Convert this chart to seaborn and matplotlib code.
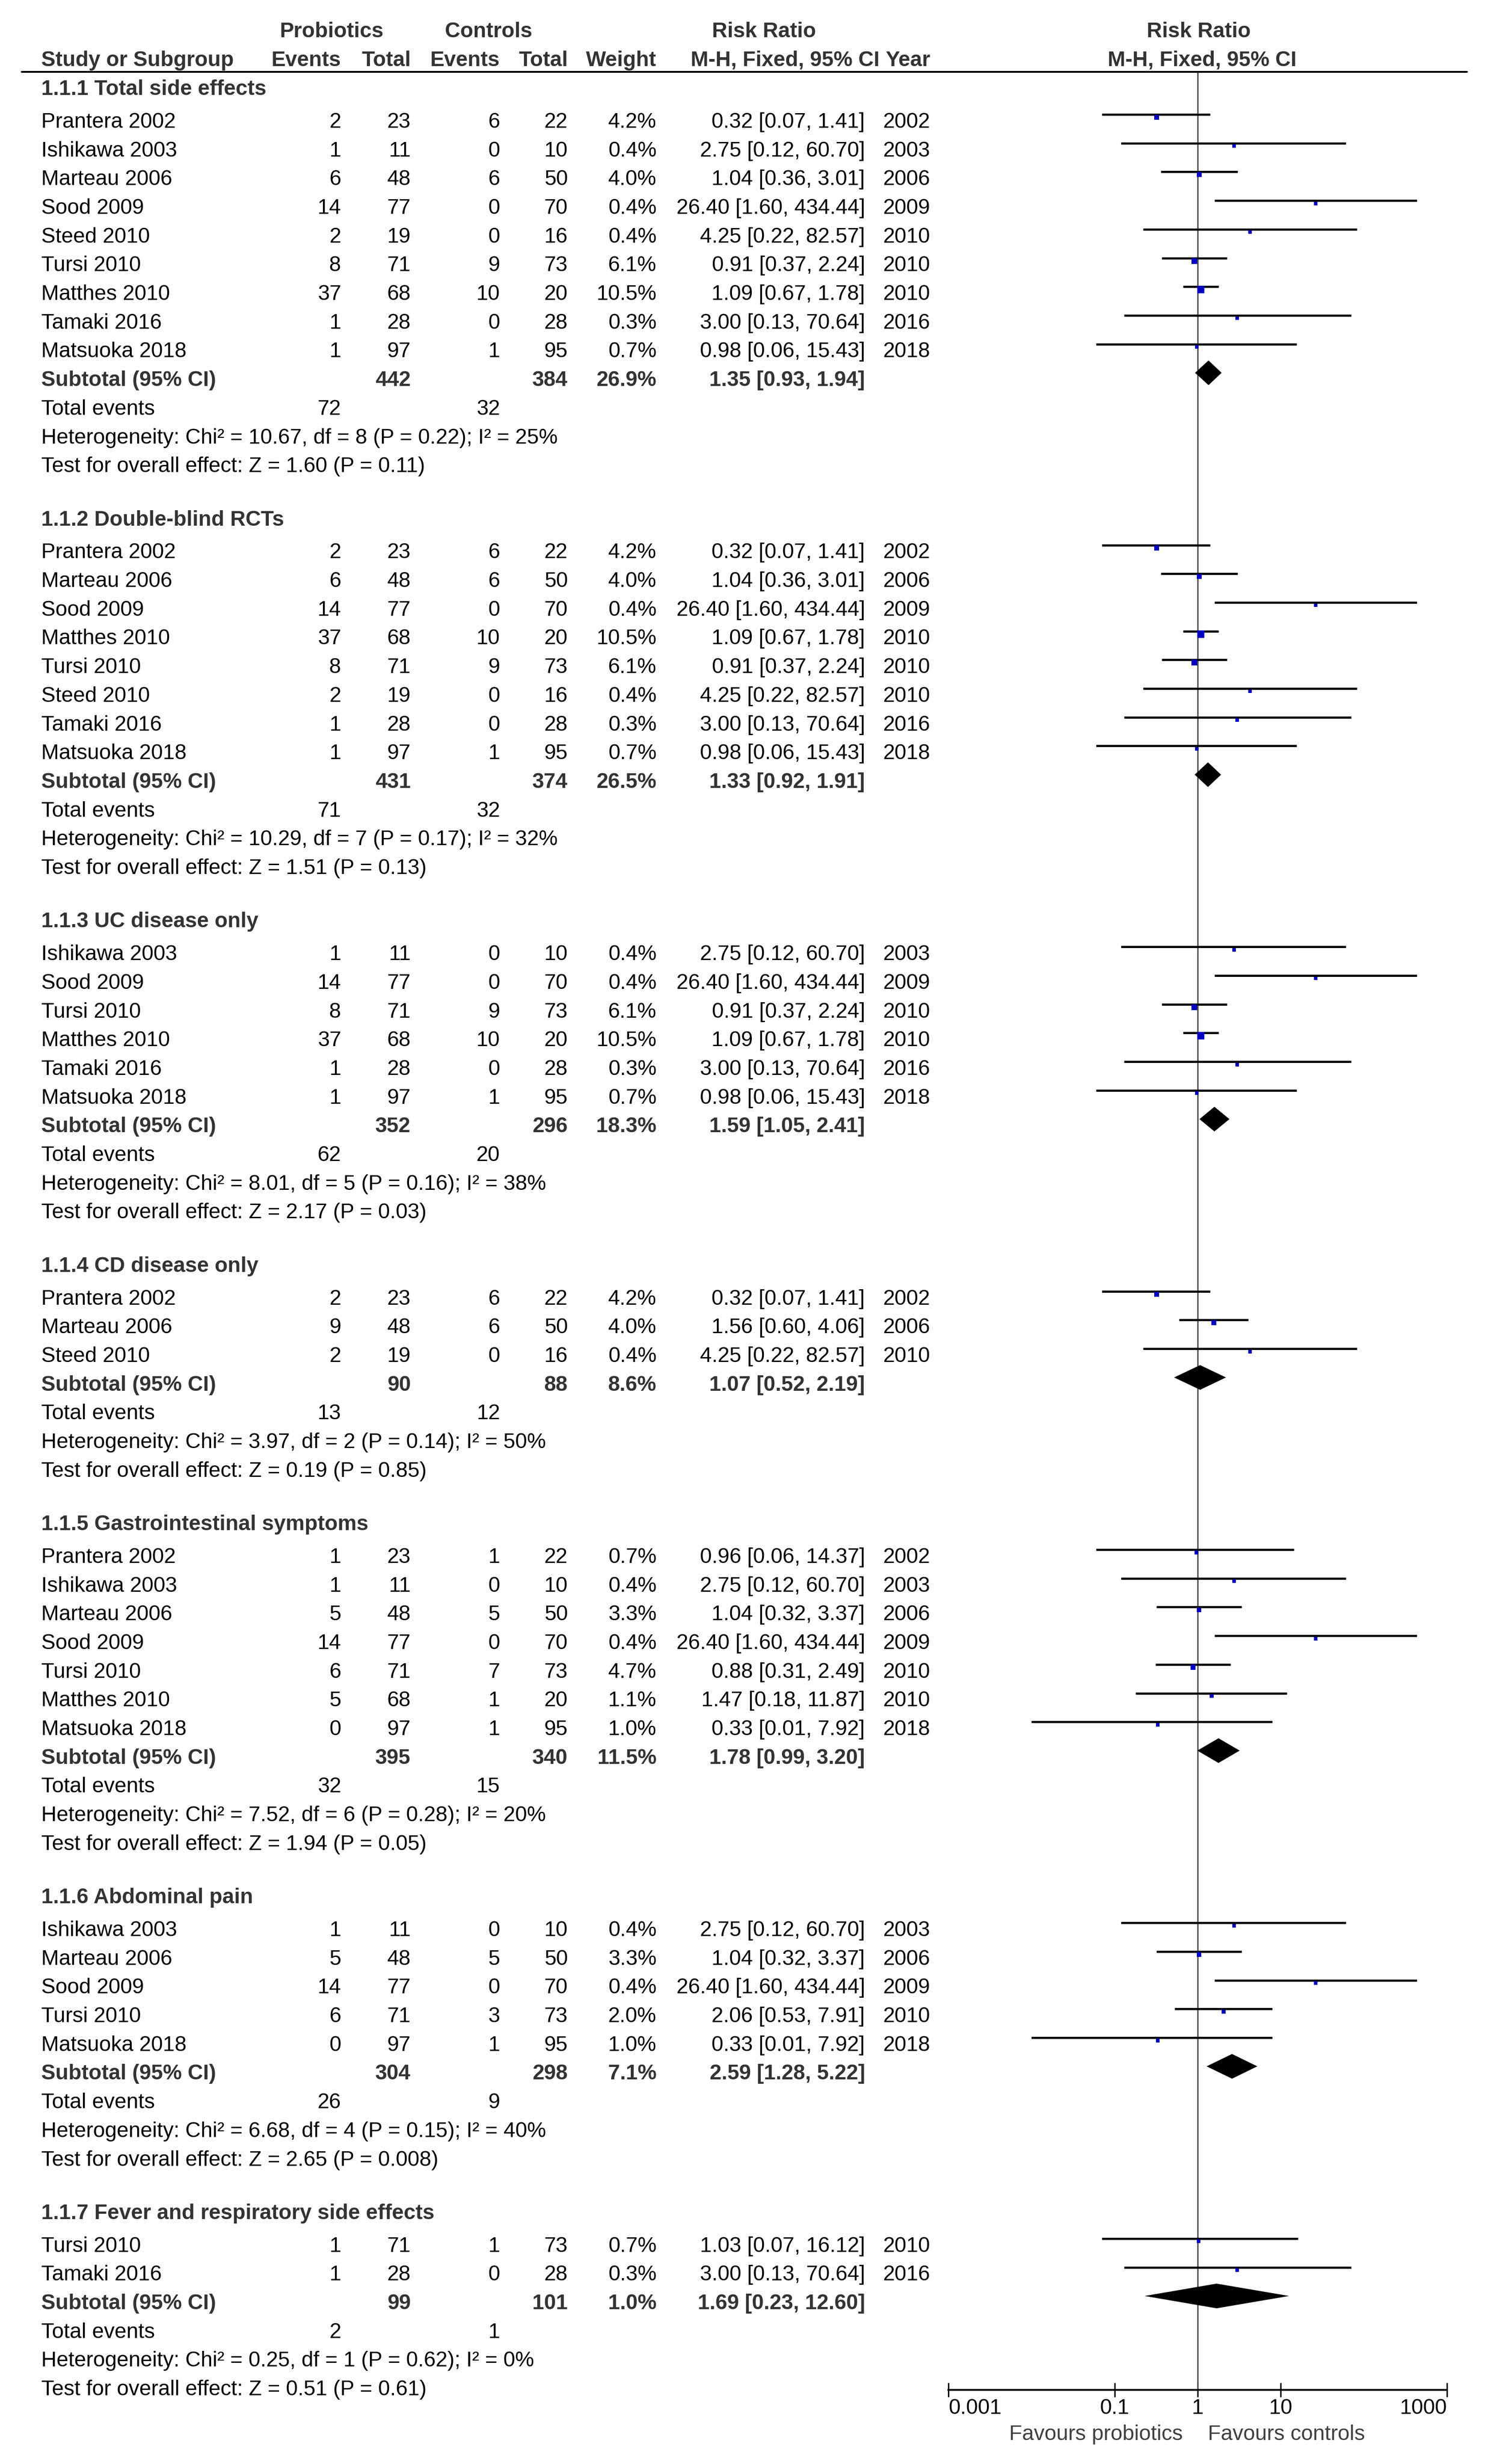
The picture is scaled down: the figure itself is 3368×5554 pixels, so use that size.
import matplotlib
matplotlib.use('Agg')
import matplotlib.pyplot as plt
import matplotlib.transforms as mtransforms
from matplotlib.lines import Line2D
import numpy as np
import pandas as pd
import seaborn as sns

# Subgroups
groups = ['1.1.1 Total side effects', '1.1.2 Double-blind RCTs', '1.1.3 UC disease only',
          '1.1.4 CD disease only', '1.1.5 Gastrointestinal symptoms', '1.1.6 Abdominal pain',
          '1.1.7 Fever and respiratory side effects']

# Study rows (in order of appearance)
study_group = [0, 0, 0, 0, 0, 0, 0, 0, 0,
               1, 1, 1, 1, 1, 1, 1, 1,
               2, 2, 2, 2, 2, 2,
               3, 3, 3,
               4, 4, 4, 4, 4, 4, 4,
               5, 5, 5, 5, 5,
               6, 6]
study = ['Prantera 2002', 'Ishikawa 2003', 'Marteau 2006', 'Sood 2009', 'Steed 2010', 'Tursi 2010',
         'Matthes 2010', 'Tamaki 2016', 'Matsuoka 2018',
         'Prantera 2002', 'Marteau 2006', 'Sood 2009', 'Matthes 2010', 'Tursi 2010', 'Steed 2010',
         'Tamaki 2016', 'Matsuoka 2018',
         'Ishikawa 2003', 'Sood 2009', 'Tursi 2010', 'Matthes 2010', 'Tamaki 2016', 'Matsuoka 2018',
         'Prantera 2002', 'Marteau 2006', 'Steed 2010',
         'Prantera 2002', 'Ishikawa 2003', 'Marteau 2006', 'Sood 2009', 'Tursi 2010', 'Matthes 2010',
         'Matsuoka 2018',
         'Ishikawa 2003', 'Marteau 2006', 'Sood 2009', 'Tursi 2010', 'Matsuoka 2018',
         'Tursi 2010', 'Tamaki 2016']
p_events = [2, 1, 6, 14, 2, 8, 37, 1, 1,
            2, 6, 14, 37, 8, 2, 1, 1,
            1, 14, 8, 37, 1, 1,
            2, 9, 2,
            1, 1, 5, 14, 6, 5, 0,
            1, 5, 14, 6, 0,
            1, 1]
p_total = [23, 11, 48, 77, 19, 71, 68, 28, 97,
           23, 48, 77, 68, 71, 19, 28, 97,
           11, 77, 71, 68, 28, 97,
           23, 48, 19,
           23, 11, 48, 77, 71, 68, 97,
           11, 48, 77, 71, 97,
           71, 28]
c_events = [6, 0, 6, 0, 0, 9, 10, 0, 1,
            6, 6, 0, 10, 9, 0, 0, 1,
            0, 0, 9, 10, 0, 1,
            6, 6, 0,
            1, 0, 5, 0, 7, 1, 1,
            0, 5, 0, 3, 1,
            1, 0]
c_total = [22, 10, 50, 70, 16, 73, 20, 28, 95,
           22, 50, 70, 20, 73, 16, 28, 95,
           10, 70, 73, 20, 28, 95,
           22, 50, 16,
           22, 10, 50, 70, 73, 20, 95,
           10, 50, 70, 73, 95,
           73, 28]
weight = [4.2, 0.4, 4.0, 0.4, 0.4, 6.1, 10.5, 0.3, 0.7,
          4.2, 4.0, 0.4, 10.5, 6.1, 0.4, 0.3, 0.7,
          0.4, 0.4, 6.1, 10.5, 0.3, 0.7,
          4.2, 4.0, 0.4,
          0.7, 0.4, 3.3, 0.4, 4.7, 1.1, 1.0,
          0.4, 3.3, 0.4, 2.0, 1.0,
          0.7, 0.3]
rr = [0.32, 2.75, 1.04, 26.40, 4.25, 0.91, 1.09, 3.00, 0.98,
      0.32, 1.04, 26.40, 1.09, 0.91, 4.25, 3.00, 0.98,
      2.75, 26.40, 0.91, 1.09, 3.00, 0.98,
      0.32, 1.56, 4.25,
      0.96, 2.75, 1.04, 26.40, 0.88, 1.47, 0.33,
      2.75, 1.04, 26.40, 2.06, 0.33,
      1.03, 3.00]
rr_lo = [0.07, 0.12, 0.36, 1.60, 0.22, 0.37, 0.67, 0.13, 0.06,
         0.07, 0.36, 1.60, 0.67, 0.37, 0.22, 0.13, 0.06,
         0.12, 1.60, 0.37, 0.67, 0.13, 0.06,
         0.07, 0.60, 0.22,
         0.06, 0.12, 0.32, 1.60, 0.31, 0.18, 0.01,
         0.12, 0.32, 1.60, 0.53, 0.01,
         0.07, 0.13]
rr_hi = [1.41, 60.70, 3.01, 434.44, 82.57, 2.24, 1.78, 70.64, 15.43,
         1.41, 3.01, 434.44, 1.78, 2.24, 82.57, 70.64, 15.43,
         60.70, 434.44, 2.24, 1.78, 70.64, 15.43,
         1.41, 4.06, 82.57,
         14.37, 60.70, 3.37, 434.44, 2.49, 11.87, 7.92,
         60.70, 3.37, 434.44, 7.91, 7.92,
         16.12, 70.64]
year = [2002, 2003, 2006, 2009, 2010, 2010, 2010, 2016, 2018,
        2002, 2006, 2009, 2010, 2010, 2010, 2016, 2018,
        2003, 2009, 2010, 2010, 2016, 2018,
        2002, 2006, 2010,
        2002, 2003, 2006, 2009, 2010, 2010, 2018,
        2003, 2006, 2009, 2010, 2018,
        2010, 2016]

# Subtotals per subgroup
sub_p_total = [442, 431, 352, 90, 395, 304, 99]
sub_c_total = [384, 374, 296, 88, 340, 298, 101]
sub_weight = [26.9, 26.5, 18.3, 8.6, 11.5, 7.1, 1.0]
sub_rr = [1.35, 1.33, 1.59, 1.07, 1.78, 2.59, 1.69]
sub_lo = [0.93, 0.92, 1.05, 0.52, 0.99, 1.28, 0.23]
sub_hi = [1.94, 1.91, 2.41, 2.19, 3.20, 5.22, 12.60]
tot_p_events = [72, 71, 62, 13, 32, 26, 2]
tot_c_events = [32, 32, 20, 12, 15, 9, 1]
het_chi2 = ['10.67', '10.29', '8.01', '3.97', '7.52', '6.68', '0.25']
het_df = [8, 7, 5, 2, 6, 4, 1]
het_p = ['0.22', '0.17', '0.16', '0.14', '0.28', '0.15', '0.62']
het_i2 = [25, 32, 38, 50, 20, 40, 0]
z_val = ['1.60', '1.51', '2.17', '0.19', '1.94', '2.65', '0.51']
z_p = ['0.11', '0.13', '0.03', '0.85', '0.05', '0.008', '0.61']

xticks = [0.001, 0.1, 1, 10, 1000]
xtick_labels = ['0.001', '0.1', '1', '10', '1000']

sns.set_style('white')
plt.rcParams['font.family'] = ['Liberation Sans', 'DejaVu Sans']

W, H = 3368, 5554
FS = 34.5
ROW0, ROWH = 206.3, 64.7
AX_L, AX_R, AX_T, AX_B = 2138, 3262, 162, 5387
BASE = 0.26       # baseline offset of text, rows
MARK = -0.2       # marks sit a bit above text centre
HEAD = '#333333'

fig = plt.figure(figsize=(W / 100, H / 100), dpi=100)
fig.patch.set_facecolor('white')
ax = fig.add_axes([AX_L / W, 1 - AX_B / H, (AX_R - AX_L) / W, (AX_B - AX_T) / H])
ax.set_xscale('log')
ax.set_xlim(0.001, 1000)
ax.set_ylim((AX_B - ROW0) / ROWH, (AX_T - ROW0) / ROWH)

tr = mtransforms.blended_transform_factory(fig.transFigure, ax.transData)


def put(x, k, s, ha='left', bold=False, color='black'):
    ax.text(x / W, k + BASE, s, transform=tr, ha=ha, va='baseline', fontsize=FS,
            fontweight='bold' if bold else 'normal', color=color, clip_on=False)


# column headers
k1, k2 = (67 - ROW0) / ROWH, (132 - ROW0) / ROWH
put(748, k1, 'Probiotics', 'center', True, HEAD)
put(1101, k1, 'Controls', 'center', True, HEAD)
put(1722, k1, 'Risk Ratio', 'center', True, HEAD)
put(2702, k1, 'Risk Ratio', 'center', True, HEAD)
put(93, k2, 'Study or Subgroup', 'left', True, HEAD)
put(769, k2, 'Events', 'right', True, HEAD)
put(926, k2, 'Total', 'right', True, HEAD)
put(1127, k2, 'Events', 'right', True, HEAD)
put(1280, k2, 'Total', 'right', True, HEAD)
put(1480, k2, 'Weight', 'right', True, HEAD)
put(1983, k2, 'M-H, Fixed, 95% CI', 'right', True, HEAD)
put(2097, k2, 'Year', 'right', True, HEAD)
put(2710, k2, 'M-H, Fixed, 95% CI', 'center', True, HEAD)
fig.add_artist(Line2D([49 / W, 3307 / W], [1 - 162 / H, 1 - 162 / H], color='black', lw=3))

# table rows
study_k, sub_k = [], []
k = 0
for g, title in enumerate(groups):
    put(93, k - 0.14, title, bold=True, color=HEAD)
    k += 1
    for i in [j for j, gg in enumerate(study_group) if gg == g]:
        put(93, k, study[i])
        put(769, k, str(p_events[i]), 'right')
        put(926, k, str(p_total[i]), 'right')
        put(1127, k, str(c_events[i]), 'right')
        put(1280, k, str(c_total[i]), 'right')
        put(1480, k, f'{weight[i]:.1f}%', 'right')
        put(1950, k, f'{rr[i]:.2f} [{rr_lo[i]:.2f}, {rr_hi[i]:.2f}]', 'right')
        put(2097, k, str(year[i]), 'right')
        study_k.append(k)
        k += 1
    put(93, k, 'Subtotal (95% CI)', bold=True, color=HEAD)
    put(926, k, str(sub_p_total[g]), 'right', True, HEAD)
    put(1280, k, str(sub_c_total[g]), 'right', True, HEAD)
    put(1480, k, f'{sub_weight[g]:.1f}%', 'right', True, HEAD)
    put(1950, k, f'{sub_rr[g]:.2f} [{sub_lo[g]:.2f}, {sub_hi[g]:.2f}]', 'right', True, HEAD)
    sub_k.append(k)
    k += 1
    put(93, k, 'Total events')
    put(769, k, str(tot_p_events[g]), 'right')
    put(1127, k, str(tot_c_events[g]), 'right')
    k += 1
    put(93, k, f'Heterogeneity: Chi\u00b2 = {het_chi2[g]}, df = {het_df[g]} '
               f'(P = {het_p[g]}); I\u00b2 = {het_i2[g]}%')
    k += 1
    put(93, k, f'Test for overall effect: Z = {z_val[g]} (P = {z_p[g]})')
    k += 2

# forest plot
ax.axvline(1, color='#505050', lw=2.2, zorder=1)
ys = np.array(study_k) + MARK
ax.hlines(ys, rr_lo, rr_hi, color='black', lw=3.5, zorder=2)

df = pd.DataFrame({'rr': rr, 'y': ys + 0.1, 'weight': weight})
side = (7.5 + 0.9 * df['weight']) * 72 / 100
sns.scatterplot(data=df, x='rr', y='y', marker='s', s=side ** 2, color='#0000C0',
                edgecolor='none', linewidth=0, legend=False, ax=ax, zorder=3)

for g in range(len(groups)):
    yc = sub_k[g] + MARK
    ax.fill([sub_lo[g], sub_rr[g], sub_hi[g], sub_rr[g]],
            [yc, yc - 0.43, yc, yc + 0.43], color='black', lw=0, zorder=3)

# axis
ax.set_xlabel('')
ax.set_ylabel('')
ax.set_yticks([])
ax.set_xticks(xticks)
ax.set_xticklabels(xtick_labels)
ax.minorticks_off()
ax.tick_params(axis='x', direction='inout', length=23, width=2.3, labelsize=FS, pad=2,
               colors='black', bottom=True)
labs = ax.get_xticklabels()
labs[0].set_horizontalalignment('left')
labs[-1].set_horizontalalignment('right')
for side_name in ['left', 'right', 'top']:
    ax.spines[side_name].set_visible(False)
ax.spines['bottom'].set_linewidth(3)
ax.spines['bottom'].set_color('black')
ax.patch.set_alpha(0)

fig.text(2666 / W, 1 - 5487 / H, 'Favours probiotics', ha='right', va='center',
         fontsize=FS, color='#404040')
fig.text(2723 / W, 1 - 5487 / H, 'Favours controls', ha='left', va='center',
         fontsize=FS, color='#404040')

fig.savefig('out.png', dpi=100, facecolor='white')
